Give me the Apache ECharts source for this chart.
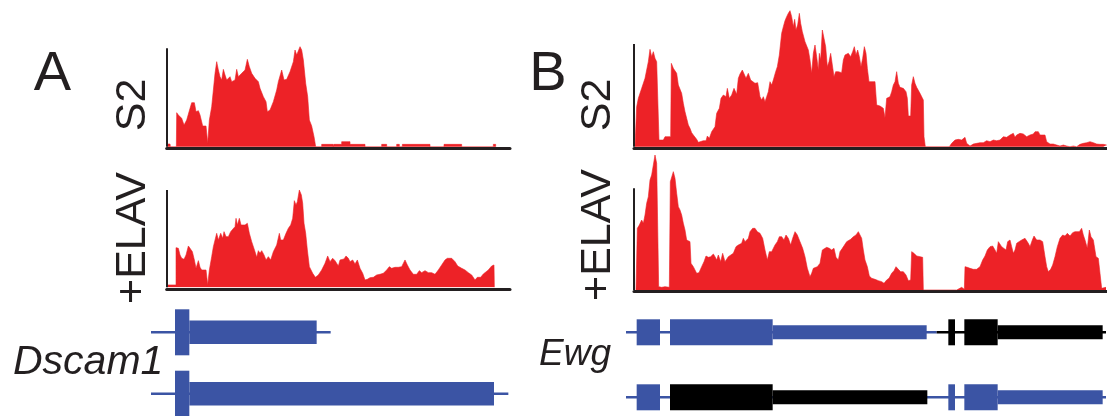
<!DOCTYPE html>
<html>
<head>
<meta charset="utf-8">
<script src="https://cdn.jsdelivr.net/npm/echarts@6/dist/echarts.min.js"></script>
<style>
html,body{margin:0;padding:0;background:#fff;}
#chart{width:1107px;height:416px;}
</style>
</head>
<body>
<div id="chart"></div>
<script>
// ---------- Coverage data: [position, read depth] ----------
const dscamS2 = [[2,8],[10,8],[11,0],[29,0],[30,102],[35,95],[45,85],[52,65],[60,80],[70,115],[75,132],[83,132],[88,105],[95,108],[100,95],[108,62],[118,62],[123,10],[128,80],[135,120],[140,170],[145,220],[150,255],[155,230],[160,210],[165,200],[170,232],[175,215],[180,200],[190,210],[195,195],[205,200],[210,232],[215,210],[225,220],[235,230],[242,262],[248,240],[255,220],[265,205],[275,195],[280,175],[290,150],[298,135],[302,105],[310,110],[320,135],[330,170],[335,195],[340,190],[345,230],[352,200],[360,202],[370,225],[380,255],[385,290],[390,275],[395,280],[400,300],[405,290],[410,260],[417,190],[423,150],[428,80],[435,62],[442,30],[447,0],
[465,0],[465,7],[500,7],[500,0],[502,0],[502,7],[525,7],[525,15],[550,15],[550,7],[595,7],[595,0],
[645,0],[645,7],[660,7],[660,0],[690,0],[690,7],[698,7],[698,0],[707,0],[707,7],[790,7],[790,0],
[832,0],[832,7],[885,7],[885,0],[980,0],[980,7],[987,7],[987,0]];

const dscamElav = [[2,7],[28,7],[28,119],[35,117],[40,97],[45,87],[52,84],[58,97],[65,124],[70,117],[77,107],[83,82],[88,57],[95,80],[100,60],[105,52],[118,52],[123,7],[128,52],[135,92],[140,122],[145,142],[150,162],[155,142],[162,162],[168,147],[172,167],[178,152],[185,152],[192,167],[198,174],[205,182],[208,207],[212,187],[218,207],[223,187],[228,192],[235,187],[242,192],[248,162],[255,137],[265,107],[270,90],[275,110],[280,102],[285,110],[292,97],[298,82],[305,92],[312,82],[320,107],[330,127],[338,162],[342,142],[350,142],[358,162],[365,177],[372,187],[378,207],[383,260],[388,247],[392,257],[398,292],[404,277],[408,252],[412,192],[417,162],[422,112],[428,62],[438,42],[446,30],[455,37],[465,52],[475,72],[483,94],[490,77],[498,87],[505,80],[510,77],[515,64],[520,82],[525,87],[532,85],[538,94],[545,87],[550,77],[558,82],[565,70],[572,82],[580,57],[588,42],[595,22],[602,24],[610,29],[620,30],[630,37],[640,39],[650,42],[660,52],[668,62],[675,57],[685,60],[695,60],[705,62],[715,82],[722,67],[730,52],[740,39],[750,39],[758,50],[765,44],[775,50],[785,44],[795,44],[805,39],[815,52],[825,67],[835,82],[842,87],[855,87],[865,77],[873,64],[885,57],[895,52],[905,44],[915,37],[925,22],[932,30],[942,30],[950,40],[965,52],[975,64],[982,67],[983,0]];

const ewgS2 = [[3,0],[8,120],[13,145],[18,150],[23,175],[28,175],[33,205],[38,230],[43,255],[48,292],[53,270],[58,285],[63,265],[68,255],[73,258],[75,20],[88,20],[93,30],[110,30],[112,250],[118,235],[123,230],[128,220],[133,185],[138,180],[143,160],[148,130],[153,105],[158,85],[163,65],[168,55],[173,42],[178,35],[183,30],[188,22],[193,13],[198,15],[208,18],[216,18],[220,32],[226,25],[233,45],[243,60],[248,100],[256,115],[261,145],[268,155],[276,150],[280,175],[286,145],[293,155],[300,175],[308,157],[313,205],[318,218],[325,230],[331,230],[336,205],[343,220],[350,200],[356,195],[363,190],[371,192],[378,150],[383,140],[388,150],[393,135],[398,150],[403,165],[408,195],[413,185],[418,200],[425,225],[430,240],[436,275],[443,340],[448,360],[453,378],[458,390],[463,400],[468,408],[473,390],[478,360],[482,382],[486,350],[491,365],[496,400],[500,370],[505,345],[508,340],[513,315],[518,310],[523,290],[528,260],[533,220],[538,280],[543,305],[548,270],[553,230],[556,280],[560,260],[565,350],[570,325],[575,300],[580,240],[585,255],[590,280],[595,245],[600,210],[605,225],[613,225],[623,222],[628,260],[633,275],[638,270],[643,280],[650,270],[656,285],[661,300],[666,275],[671,290],[676,270],[681,240],[686,265],[691,300],[696,280],[700,235],[705,195],[723,195],[728,125],[738,122],[748,115],[753,87],[758,145],[763,140],[768,150],[773,165],[778,185],[783,195],[788,225],[793,190],[798,178],[808,175],[816,165],[820,145],[823,92],[830,92],[833,185],[838,210],[843,190],[848,178],[858,160],[868,140],[870,30],[874,0],[946,0],[946,5],[953,10],[963,20],[973,22],[983,20],[993,28],[998,10],[1008,2],[1018,8],[1028,10],[1038,12],[1048,12],[1058,18],[1068,15],[1078,20],[1088,18],[1098,20],[1108,30],[1118,28],[1128,35],[1138,40],[1143,28],[1148,35],[1158,40],[1168,38],[1178,30],[1188,35],[1198,38],[1203,45],[1208,48],[1213,45],[1218,35],[1233,35],[1238,15],[1248,8],[1258,8],[1268,5],[1278,2],[1288,5],[1298,2],[1308,0],[1318,2],[1328,0],[1338,7],[1348,10],[1358,12],[1368,15],[1378,12],[1388,8],[1398,7],[1408,7],[1418,5]];

const ewgElav = [[6,0],[10,185],[16,195],[23,210],[28,200],[33,225],[38,260],[43,280],[48,330],[53,345],[58,375],[63,405],[68,380],[73,375],[74,10],[83,8],[93,10],[106,8],[109,325],[113,320],[118,355],[123,335],[128,290],[133,250],[138,240],[143,225],[148,200],[153,180],[158,150],[163,145],[168,145],[171,80],[178,70],[188,50],[195,52],[203,70],[210,85],[216,102],[223,98],[230,100],[238,108],[243,100],[248,90],[253,105],[260,85],[266,110],[273,85],[278,80],[283,100],[288,105],[298,110],[306,130],[313,135],[323,140],[328,155],[333,145],[343,155],[348,175],[356,185],[363,185],[370,175],[378,170],[386,155],[393,120],[400,90],[406,115],[413,115],[423,135],[430,145],[436,160],[443,160],[450,150],[456,165],[463,155],[470,135],[476,155],[483,175],[490,165],[498,145],[506,125],[513,100],[520,65],[528,40],[533,50],[538,65],[543,70],[550,70],[558,80],[565,120],[570,125],[578,128],[586,125],[593,120],[600,125],[606,98],[613,90],[618,115],[625,125],[631,130],[638,145],[643,150],[650,152],[658,160],[666,165],[673,175],[678,180],[683,155],[688,120],[693,90],[700,70],[706,42],[713,35],[723,32],[733,28],[743,25],[750,20],[758,30],[765,35],[773,50],[780,58],[786,70],[793,62],[800,55],[808,55],[816,45],[823,28],[830,30],[833,115],[840,110],[848,102],[858,100],[866,98],[868,0],[968,0],[970,5],[983,8],[991,2],[993,70],[1000,68],[1008,65],[1018,62],[1028,62],[1038,70],[1046,90],[1053,102],[1060,120],[1068,130],[1076,132],[1083,120],[1088,110],[1093,145],[1098,150],[1103,130],[1108,135],[1116,120],[1121,145],[1128,150],[1133,130],[1138,110],[1143,120],[1148,140],[1155,145],[1163,150],[1173,155],[1178,160],[1183,140],[1188,130],[1195,150],[1200,162],[1208,150],[1218,150],[1226,145],[1233,100],[1238,70],[1243,55],[1250,62],[1256,75],[1263,100],[1270,130],[1278,155],[1286,165],[1293,162],[1300,170],[1308,162],[1316,172],[1323,175],[1328,180],[1336,175],[1343,185],[1348,165],[1353,150],[1360,125],[1366,180],[1371,160],[1378,150],[1386,100],[1393,95],[1398,95],[1403,5],[1408,0],[1416,8]];

// ---------- Gene models ----------
const transcripts = ['tx1', 'tx2'];
// introns: [start, end, transcript, group]
const dscamIntrons = [[33,572,'tx1','shared'],[33,1105,'tx2','shared']];
// exons: [start, end, transcript, kind, group]
const dscamExons = [[105,148,'tx1','tall','shared'],[148,530,'tx1','cds','shared'],
                    [105,148,'tx2','tall','shared'],[148,1062,'tx2','cds','shared']];
const ewgIntrons = [[18,950,'tx1','shared'],[950,1458,'tx1','alt'],[18,1458,'tx2','shared']];
const ewgExons = [[50,120,'tx1','exon','shared'],[150,458,'tx1','exon','shared'],[458,920,'tx1','utr','shared'],
                  [985,1005,'tx1','exon','alt'],[1033,1133,'tx1','exon','alt'],[1133,1448,'tx1','utr','alt'],
                  [50,120,'tx2','exon','shared'],[150,458,'tx2','exon','alt'],[458,922,'tx2','utr','alt'],
                  [985,1005,'tx2','exon','shared'],[1033,1133,'tx2','exon','shared'],[1133,1448,'tx2','utr','shared']];

const trackLabels = ['S2', '+ELAV'];
const panelLabels = ['A', 'B'];
const geneNames = ['Dscam1', 'Ewg'];

// ---------- styles ----------
const RED = '#ed2227';
const INK = '#231f20';
const groupColor = {shared: '#3b54a4', alt: '#000000'};
const kindHeight = {tall: 46, cds: 23.5, exon: 26, utr: 14};
const FONT = '"Liberation Sans", Arial, Helvetica, sans-serif';

const chart = echarts.init(document.getElementById('chart'), null, {renderer: 'canvas'});

const tracks = [
  {data: dscamS2,   grid: {left: 166.7, top: 40,  width: 343.3, height: 106.7}, xMax: 1030, yMax: 320, yLine: 295},
  {data: dscamElav, grid: {left: 166.7, top: 180, width: 343.3, height: 107.3}, xMax: 1030, yMax: 322, yLine: 292},
  {data: ewgS2,     grid: {left: 634,   top: 0,   width: 473,   height: 146.7}, xMax: 1419, yMax: 440, yLine: 308},
  {data: ewgElav,   grid: {left: 634,   top: 150, width: 473,   height: 140},   xMax: 1419, yMax: 420, yLine: 305}
];
const genes = [
  {introns: dscamIntrons, exons: dscamExons, grid: {left: 140, top: 301.6, width: 380, height: 122.8}, xMax: 1140},
  {introns: ewgIntrons,   exons: ewgExons,   grid: {left: 620, top: 299.8, width: 487, height: 130},   xMax: 1461}
];

const gridBase = {containLabel: false, outerBoundsMode: 'none'};
const grids = [], xAxes = [], yAxes = [], series = [];
tracks.forEach((t, i) => {
  grids.push(Object.assign({}, gridBase, t.grid));
  xAxes.push({type: 'value', gridIndex: i, min: 0, max: t.xMax, offset: 1.5,
    axisLine: {show: true, onZero: false, lineStyle: {color: INK, width: 3}},
    axisTick: {show: false}, axisLabel: {show: false}, splitLine: {show: false}});
  yAxes.push({type: 'value', gridIndex: i, min: 0, max: t.yMax, show: false});
  series.push({
    type: 'line', xAxisIndex: i, yAxisIndex: i, data: t.data,
    symbol: 'none', showSymbol: false, smooth: false,
    lineStyle: {width: 0.6, color: RED}, areaStyle: {color: RED, opacity: 1},
    silent: true,
    markLine: {silent: true, symbol: ['none', 'none'], label: {show: false},
      lineStyle: {color: INK, width: 2, type: 'solid'},
      data: [[{coord: [0, 0]}, {coord: [0, t.yLine]}]]}
  });
});
genes.forEach((g, k) => {
  const gi = tracks.length + k;
  grids.push(Object.assign({}, gridBase, g.grid));
  xAxes.push({type: 'value', gridIndex: gi, min: 0, max: g.xMax, show: false});
  yAxes.push({type: 'category', gridIndex: gi, data: transcripts, inverse: true, show: false});
  series.push({
    type: 'custom', xAxisIndex: gi, yAxisIndex: gi, data: g.introns, silent: true, clip: false,
    renderItem: (params, api) => {
      const p1 = api.coord([api.value(0), api.value(2)]);
      const p2 = api.coord([api.value(1), api.value(2)]);
      const grp = g.introns[params.dataIndex][3];
      return {type: 'line', shape: {x1: p1[0], y1: p1[1], x2: p2[0], y2: p2[1]},
        style: {stroke: groupColor[grp], lineWidth: 2.5}};
    }
  });
  series.push({
    type: 'custom', xAxisIndex: gi, yAxisIndex: gi, data: g.exons, silent: true, clip: false,
    renderItem: (params, api) => {
      const row = g.exons[params.dataIndex];
      const p1 = api.coord([api.value(0), api.value(2)]);
      const p2 = api.coord([api.value(1), api.value(2)]);
      const h = kindHeight[row[3]];
      return {type: 'rect', shape: {x: p1[0], y: p1[1] - h / 2, width: p2[0] - p1[0], height: h},
        style: {fill: groupColor[row[4]]}};
    }
  });
});

const txt = (text, x, y, size, opts) => Object.assign({
  type: 'text', x: x, y: y, silent: true,
  style: {text: text, fill: INK, font: size + 'px ' + FONT, align: 'center', verticalAlign: 'middle'}
}, opts || {});

const graphics = [
  txt(panelLabels[0], 52.5, 75, 56),
  txt(panelLabels[1], 548, 75, 56),
  txt(trackLabels[0], 133, 105, 43, {rotation: Math.PI / 2}),
  txt(trackLabels[1], 133, 238, 43, {rotation: Math.PI / 2}),
  txt(trackLabels[0], 598, 105, 43, {rotation: Math.PI / 2}),
  txt(trackLabels[1], 598, 235, 43, {rotation: Math.PI / 2}),
  {type: 'text', x: 13, y: 363, silent: true,
   style: {text: geneNames[0], fill: INK, font: 'italic 41px ' + FONT, align: 'left', verticalAlign: 'middle'}},
  {type: 'text', x: 539, y: 355, silent: true,
   style: {text: geneNames[1], fill: INK, font: 'italic 37px ' + FONT, align: 'left', verticalAlign: 'middle'}}
];

chart.setOption({
  animation: false,
  backgroundColor: '#ffffff',
  grid: grids, xAxis: xAxes, yAxis: yAxes, series: series,
  graphic: graphics
});
</script>
</body>
</html>
